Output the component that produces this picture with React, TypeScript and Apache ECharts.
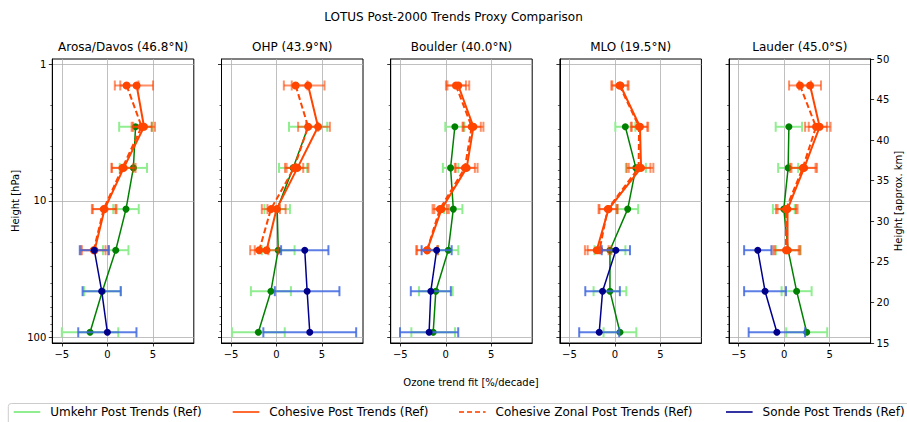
import React, { useEffect, useRef } from 'react';
import * as echarts from 'echarts';

// ---------- data ----------
const stationNames = [
  'Arosa/Davos (46.8°N)',
  'OHP (43.9°N)',
  'Boulder (40.0°N)',
  'MLO (19.5°N)',
  'Lauder (45.0°S)',
];
// pressure levels (hPa), top to bottom
const pressureLevels = [1.43, 2.87, 5.74, 11.5, 23.0, 45.9, 91.8];
const pressureTicks = [1, 10, 100];
const pressureMinorTicks = [2, 3, 4, 5, 6, 7, 8, 9, 20, 30, 40, 50, 60, 70, 80, 90];
const trendTicks = [-5, 0, 5];

// Umkehr Post Trends (Ref)
const umkehrTrend = [
  [null, 3.1, 2.86, 2.05, 0.92, -0.55, -1.9],
  [null, 3.47, 1.82, 0.07, 0.18, -0.62, -2.0],
  [null, 1.0, 0.53, 0.83, 0.28, -1.09, -1.38],
  [null, 1.14, 2.3, 1.4, -0.55, -0.55, 0.55],
  [null, 0.52, 0.44, -0.04, 0.44, 1.37, 2.48],
];
const umkehrErr = [
  [null, 1.8, 1.5, 1.4, 1.4, 2.0, 3.1],
  [null, 2.1, 1.55, 1.4, 1.8, 2.2, 2.9],
  [null, 1.05, 0.85, 1.0, 1.1, 1.85, 2.4],
  [null, 1.1, 1.1, 1.15, 1.7, 1.8, 1.8],
  [null, 1.45, 1.1, 1.2, 1.35, 1.65, 2.25],
];
// Cohesive Post Trends (Ref)
const cohesiveTrend = [
  [3.22, 4.03, 1.8, -0.3, -1.4, null, null],
  [3.47, 4.56, 2.3, 0.0, -1.1, null, null],
  [1.38, 3.04, 2.3, -0.46, -2.05, null, null],
  [0.6, 2.75, 2.87, -0.7, -2.0, null, null],
  [2.85, 3.9, 2.2, 0.37, 0.37, null, null],
];
const cohesiveErr = [
  [1.8, 1.2, 1.3, 1.3, 1.5, null, null],
  [1.8, 1.3, 1.2, 1.0, 1.3, null, null],
  [1.2, 1.1, 1.2, 0.8, 1.2, null, null],
  [0.9, 0.9, 1.35, 1.0, 1.3, null, null],
  [1.2, 1.2, 1.4, 1.1, 1.4, null, null],
];
// Cohesive Zonal Post Trends (Ref)
const zonalTrend = [
  [2.12, 3.77, 1.65, -0.4, -1.5, null, null],
  [2.1, 3.47, 1.93, -0.62, -1.9, null, null],
  [1.12, 2.85, 2.1, -0.65, -2.05, null, null],
  [0.5, 2.65, 2.6, -0.8, -1.7, null, null],
  [1.74, 3.5, 2.05, 0.2, 0.2, null, null],
];
const zonalErr = [
  [1.3, 1.1, 1.2, 1.3, 1.3, null, null],
  [1.3, 1.1, 1.0, 1.0, 1.0, null, null],
  [1.1, 1.0, 1.1, 0.8, 1.1, null, null],
  [0.9, 0.9, 1.3, 1.0, 1.3, null, null],
  [1.2, 1.2, 1.4, 1.1, 1.4, null, null],
];
// Sonde Post Trends (Ref)
const sondeTrend = [
  [null, null, null, null, -1.43, -0.62, 0.0],
  [null, null, null, null, 3.1, 3.36, 3.65],
  [null, null, null, null, -1.0, -1.64, -1.83],
  [null, null, null, null, 0.1, -1.36, -1.73],
  [null, null, null, null, -2.9, -2.1, -0.8],
];
const sondeErr = [
  [null, null, null, null, 1.6, 2.1, 3.2],
  [null, null, null, null, 2.6, 3.55, 5.1],
  [null, null, null, null, 1.65, 2.2, 3.2],
  [null, null, null, null, 1.55, 1.9, 2.2],
  [null, null, null, null, 1.5, 2.3, 3.1],
];

const legendNames = [
  'Umkehr Post Trends (Ref)',
  'Cohesive Post Trends (Ref)',
  'Cohesive Zonal Post Trends (Ref)',
  'Sonde Post Trends (Ref)',
];

// ---------- layout / style ----------
const FONT = 'DejaVu Sans';
const gridLeft0 = 52.3;
const gridStep = 169.2;
const gridWidth = 141.5;
const gridTop = 59;
const gridHeight = 284;
const xMin = -6.05;
const xMax = 9.5;
const yMin = Math.log10(0.915);
const yMax = Math.log10(110);
const legendLefts = [12.7, 231.7, 458, 725];
const legendColors = ['#90ee90', '#ff6a33', '#ff6a33', '#3333a2'];

const minus = (v: number) => (v < 0 ? '\u2212' + Math.abs(v) : String(v));

function errRender(color: string) {
  return (params: any, api: any) => {
    const y = api.value(2);
    const lo = api.coord([api.value(0), y]);
    const hi = api.coord([api.value(1), y]);
    const style = { stroke: color, lineWidth: 2, fill: 'none' };
    return {
      type: 'group',
      children: [
        { type: 'line', shape: { x1: lo[0], y1: lo[1], x2: hi[0], y2: hi[1] }, style },
        { type: 'line', shape: { x1: lo[0], y1: lo[1] - 5, x2: lo[0], y2: lo[1] + 5 }, style },
        { type: 'line', shape: { x1: hi[0], y1: hi[1] - 5, x2: hi[0], y2: hi[1] + 5 }, style },
      ],
    };
  };
}

function errData(trend: (number | null)[], err: (number | null)[]) {
  const out: number[][] = [];
  trend.forEach((t, k) => {
    const e = err[k];
    if (t !== null && e !== null) out.push([t - e, t + e, Math.log10(pressureLevels[k])]);
  });
  return out;
}
function lineData(trend: (number | null)[]) {
  const out: number[][] = [];
  trend.forEach((t, k) => {
    if (t !== null) out.push([t, Math.log10(pressureLevels[k])]);
  });
  return out;
}

export default function App() {
  const ref = useRef<HTMLDivElement>(null);
  useEffect(() => {
    const chart = echarts.init(ref.current!, null, { renderer: 'svg' });

    const grids: any[] = [];
    const xAxes: any[] = [];
    const yAxes: any[] = [];
    const titles: any[] = [
      {
        text: 'LOTUS Post-2000 Trends Proxy Comparison',
        left: 453.5,
        top: 11,
        textAlign: 'center',
        padding: 0,
        textStyle: { fontFamily: FONT, fontSize: 12, fontWeight: 'normal', color: '#000' },
      },
      {
        text: 'Ozone trend fit [%/decade]',
        left: 471,
        top: 377,
        textAlign: 'center',
        padding: 0,
        textStyle: { fontFamily: FONT, fontSize: 10, fontWeight: 'normal', color: '#000' },
      },
    ];
    const series: any[] = [];

    // legend-only series
    legendNames.forEach((name, i) => {
      series.push({
        type: 'line',
        name,
        xAxisIndex: 0,
        yAxisIndex: 0,
        data: [],
        symbol: 'circle',
        itemStyle: { color: legendColors[i] },
        lineStyle: { color: legendColors[i], width: 2, type: i === 2 ? [5, 3] : 'solid' },
      });
    });

    for (let i = 0; i < stationNames.length; i++) {
      const left = gridLeft0 + i * gridStep;
      grids.push({
        left,
        top: gridTop,
        width: gridWidth,
        height: gridHeight,
        show: true,
        borderColor: '#000',
        borderWidth: 1,
        backgroundColor: 'transparent',
      });
      titles.push({
        text: stationNames[i],
        left: left + gridWidth / 2,
        top: 41,
        textAlign: 'center',
        padding: 0,
        textStyle: { fontFamily: FONT, fontSize: 12, fontWeight: 'normal', color: '#000' },
      });
      xAxes.push({
        type: 'value',
        gridIndex: i,
        min: xMin,
        max: xMax,
        axisLine: { show: true, onZero: false, lineStyle: { color: '#000', width: 1 } },
        axisTick: { show: true, length: 3.5, customValues: trendTicks, lineStyle: { color: '#000', width: 0.8 } },
        axisLabel: {
          show: true,
          customValues: trendTicks,
          margin: 6,
          fontFamily: FONT,
          fontSize: 10,
          color: '#000',
          formatter: (v: number) => minus(v),
        },
        splitLine: { show: true, lineStyle: { color: '#b0b0b0', width: 0.8 } },
      });
    }
    // major y axes (0..4)
    for (let i = 0; i < stationNames.length; i++) {
      yAxes.push({
        type: 'value',
        gridIndex: i,
        position: 'left',
        inverse: true,
        min: yMin,
        max: yMax,
        name: i === 0 ? 'Height [hPa]' : '',
        nameLocation: 'middle',
        nameGap: 32,
        nameRotate: 90,
        nameTextStyle: { fontFamily: FONT, fontSize: 10, color: '#000' },
        axisLine: { show: true, onZero: false, lineStyle: { color: '#000', width: 1 } },
        axisTick: {
          show: true,
          length: 3.5,
          customValues: pressureTicks.map((p) => Math.log10(p)),
          lineStyle: { color: '#000', width: 0.8 },
        },
        axisLabel: {
          show: i === 0,
          customValues: pressureTicks.map((p) => Math.log10(p)),
          margin: 6,
          fontFamily: FONT,
          fontSize: 10,
          color: '#000',
          formatter: (v: number) => String(Math.round(Math.pow(10, v))),
        },
        splitLine: { show: true, lineStyle: { color: '#b0b0b0', width: 0.8 } },
      });
    }
    // minor y axes (5..9)
    for (let i = 0; i < stationNames.length; i++) {
      yAxes.push({
        type: 'value',
        gridIndex: i,
        position: 'left',
        inverse: true,
        min: yMin,
        max: yMax,
        axisLine: { show: false, onZero: false },
        axisTick: {
          show: true,
          length: 2,
          customValues: pressureMinorTicks.map((p) => Math.log10(p)),
          lineStyle: { color: '#000', width: 0.6 },
        },
        axisLabel: { show: false },
        splitLine: { show: false },
      });
    }
    // km axis (10)
    yAxes.push({
      type: 'value',
      gridIndex: 4,
      position: 'right',
      min: 15,
      max: 50,
      interval: 5,
      name: 'Height [approx. km]',
      nameLocation: 'middle',
      nameGap: 22,
      nameRotate: 90,
      nameTextStyle: { fontFamily: FONT, fontSize: 10, color: '#000' },
      axisLine: { show: true, onZero: false, lineStyle: { color: '#000', width: 1 } },
      axisTick: { show: true, length: 3.5, lineStyle: { color: '#000', width: 0.8 } },
      axisLabel: { margin: 6, fontFamily: FONT, fontSize: 10, color: '#000' },
      splitLine: { show: false },
    });

    const groups = [
      { key: 'umkehr', trend: umkehrTrend, err: umkehrErr, errColor: '#90ee90', color: '#008000', width: 1.5, size: 7, dash: 'solid' },
      { key: 'cohesive', trend: cohesiveTrend, err: cohesiveErr, errColor: 'rgba(255,69,0,0.6)', color: '#ff4500', width: 2, size: 8, dash: 'solid' },
      { key: 'zonal', trend: zonalTrend, err: zonalErr, errColor: 'rgba(255,69,0,0.6)', color: '#ff4500', width: 2, size: 8, dash: [6, 3] },
      { key: 'sonde', trend: sondeTrend, err: sondeErr, errColor: 'rgba(65,105,225,0.85)', color: '#00008b', width: 1.5, size: 7, dash: 'solid' },
    ];

    for (let i = 0; i < stationNames.length; i++) {
      groups.forEach((g, gi) => {
        series.push({
          type: 'custom',
          name: g.key + '-err-' + i,
          xAxisIndex: i,
          yAxisIndex: i,
          z: 2 + gi * 2,
          silent: true,
          renderItem: errRender(g.errColor),
          encode: { x: [0, 1], y: 2 },
          data: errData(g.trend[i], g.err[i]),
        });
        series.push({
          type: 'line',
          name: g.key + '-line-' + i,
          xAxisIndex: i,
          yAxisIndex: i,
          z: 3 + gi * 2,
          silent: true,
          symbol: 'circle',
          symbolSize: g.size,
          itemStyle: { color: g.color },
          lineStyle: { color: g.color, width: g.width, type: g.dash },
          data: lineData(g.trend[i]),
        });
      });
    }

    const legends = legendNames.map((name, i) => ({
      data: [name],
      left: legendLefts[i],
      top: 406,
      padding: 0,
      itemWidth: 26.6,
      itemHeight: 14,
      itemStyle: { opacity: 0 },
      selectedMode: false,
      textStyle: { fontFamily: FONT, fontSize: 12, color: '#000', padding: [0, 0, 0, 5] },
    }));

    const option: any = {
      animation: false,
      backgroundColor: '#fff',
      title: titles,
      grid: grids,
      xAxis: xAxes,
      yAxis: yAxes,
      legend: legends,
      graphic: [
        {
          type: 'rect',
          z: 0,
          silent: true,
          shape: { x: 8.3, y: 403.5, width: 1000, height: 40, r: 3 },
          style: { fill: '#fff', stroke: '#cccccc', lineWidth: 1 },
        },
      ],
      series,
    };
    chart.setOption(option);
    return () => chart.dispose();
  }, []);
  return (
    <div
      ref={ref}
      style={{ position: 'fixed', left: 0, top: 0, width: 907, height: 422, background: '#fff' }}
    />
  );
}
